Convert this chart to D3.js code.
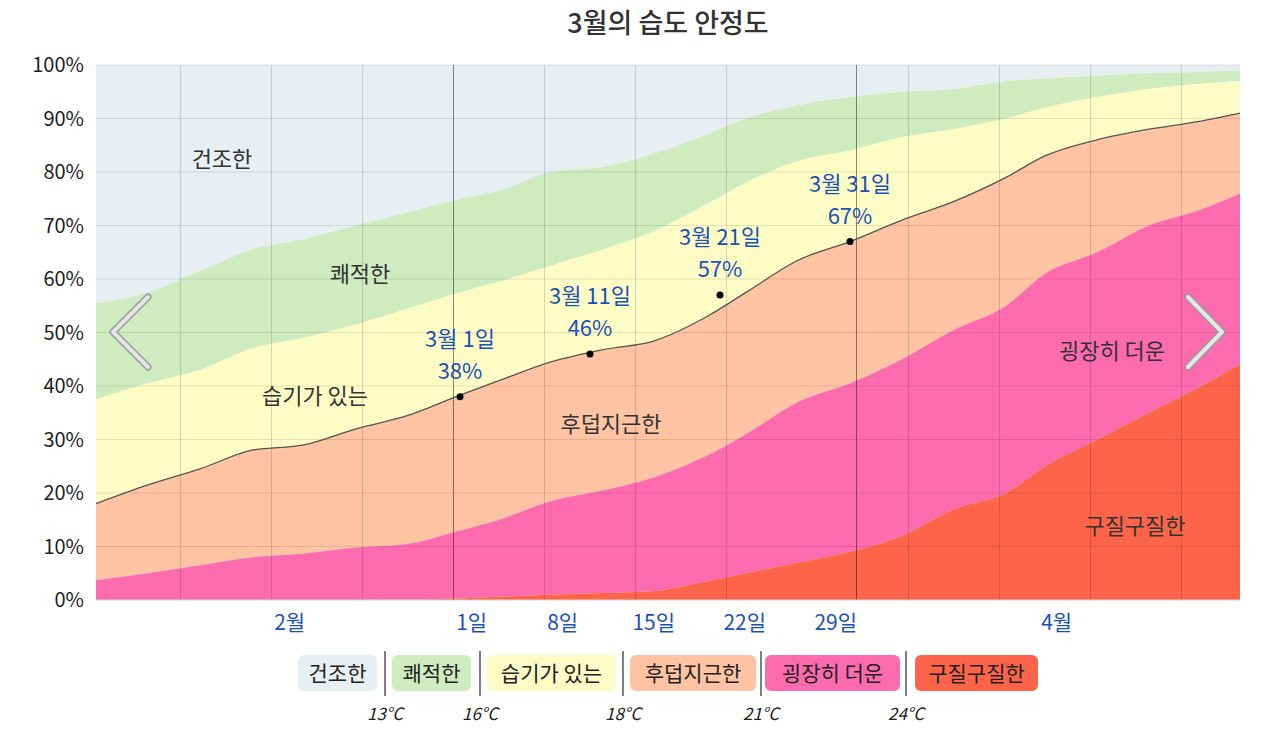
<!DOCTYPE html>
<html><head><meta charset="utf-8">
<script src="https://cdn.jsdelivr.net/npm/d3@7"></script>
<style>body{margin:0;background:#fff;font-family:"Noto Sans CJK KR","Noto Sans",sans-serif}</style>
</head><body><svg id="c" width="1276" height="742"></svg>
<script>
// day offsets from Feb 1 (0 .. 88 = Apr 30)
const days =      [0,   4,   8,   12,  16,  20,  24,  28,  31,  35,  39,  43,  47,  50,  54,  58,  62,  66,  70,  73,  77,  81,  85,  88];
// cumulative upper boundaries (%) of each band, bottom to top
const muggyTop =  [0,   0,   0,   0,   0,   0,   0.1, 0.3, 0.6, 1,   1.3, 1.7, 3.5, 5,   7,   9,   12,  17,  20,  25,  30,  35,  40,  44];
const hotTop =    [3.7, 5,   6.5, 8,   8.7, 9.8, 10.5,13,  15,  18.5,20.5,23,  27,  31,  37,  40.5,45,  50.5,55,  61,  65,  70,  73,  76];
const sultryTop = [18,  21.5,24.5,28,  29,  32,  34.5,38.3,41,  44.5,46.8,48.5,53,  57.5,63.5,67,  71,  74.5,79,  83,  86,  88,  89.5,91];
const humidTop =  [37.5,40.5,43,  47,  49,  51.5,54.5,57.5,59.5,62.5,65.5,69,  74,  78,  82,  84,  86.5,88,  90,  92,  94,  95.5,96.5,97];
const comfyTop =  [55.5,57.5,61.5,65.5,67.5,70,  72.5,75,  76.5,80,  81,  83.5,87,  90,  92.5,94,  95,  95.5,97,  97.5,98,  98.5,98.7,99];
const dryTop =    days.map(() => 100);

const bandNames = ['건조한','쾌적한','습기가 있는','후덥지근한','굉장히 더운','구질구질한'];
const bandColors = ['#e6f0f3','#cfecc0','#fefcc5','#fec3a2','#fd6baf','#fd6449'];
const tempLabels = ['13°C','16°C','18°C','21°C','24°C'];
const yTicks = [0,10,20,30,40,50,60,70,80,90,100];
const dayTicks = [{d:28,t:'1일'},{d:35,t:'8일'},{d:42,t:'15일'},{d:49,t:'22일'},{d:56,t:'29일'}];
const monthTicks = [{d:14,t:'2월'},{d:73,t:'4월'}];
const notes = [{d:28,v:38,t:'3월 1일'},{d:38,v:46,t:'3월 11일'},{d:48,v:57,t:'3월 21일'},{d:58,v:67,t:'3월 31일'}];

const svg = d3.select('#c');
const W = {l:96, r:1240, t:65, b:600};
const x = d3.scaleLinear().domain([0,88]).range([W.l,W.r]);
const y = d3.scaleLinear().domain([0,100]).range([W.b,W.t]);

svg.append('text').attr('x',668).attr('y',33).attr('text-anchor','middle')
  .attr('font-size',27).attr('font-weight',500).attr('fill','#333').text('3월의 습도 안정도');

// bands, drawn from top to bottom
const tops = [dryTop, comfyTop, humidTop, sultryTop, hotTop, muggyTop];
const bottoms = [comfyTop, humidTop, sultryTop, hotTop, muggyTop, days.map(() => 0)];
const area = d3.area().curve(d3.curveMonotoneX).x((d,i) => x(days[i]));
tops.forEach((t,k) => {
  svg.append('path').attr('fill', bandColors[k])
    .attr('d', area.y0((d,i) => y(bottoms[k][i])).y1((d,i) => y(t[i]))(days));
});

// grid
const g = svg.append('g');
g.selectAll('line.h').data(yTicks).join('line')
  .attr('x1',W.l).attr('x2',W.r).attr('y1',d=>y(d)).attr('y2',d=>y(d))
  .attr('stroke','#000').attr('stroke-opacity',0.1);
const weekLines = d3.range(-3,9).map(k => 27.5 + 7*k).filter(d => d>0 && d<88);
g.selectAll('line.v').data(weekLines).join('line')
  .attr('x1',d=>x(d)).attr('x2',d=>x(d)).attr('y1',W.t).attr('y2',W.b)
  .attr('stroke','#000').attr('stroke-opacity',d => (d===27.5||d===55.5) ? 0 : 0.15);
g.selectAll('line.m').data([27.5,58.5]).join('line')
  .attr('x1',d=>x(d)).attr('x2',d=>x(d)).attr('y1',W.t).attr('y2',W.b)
  .attr('stroke','#000').attr('stroke-opacity',0.45);
svg.append('line').attr('x1',W.l).attr('x2',W.r).attr('y1',W.b).attr('y2',W.b).attr('stroke','#ddd');

// boundary line of the sultry band
svg.append('path').attr('fill','none').attr('stroke','#555').attr('stroke-width',1.3)
  .attr('d', d3.line().curve(d3.curveMonotoneX).x((d,i)=>x(days[i])).y((d,i)=>y(sultryTop[i]))(days));

// y labels
svg.selectAll('text.yl').data(yTicks).join('text')
  .attr('x',84).attr('y',d=>y(d)+7).attr('text-anchor','end')
  .attr('font-size',20).attr('fill','#222').text(d=>d+'%');

// x labels
svg.selectAll('text.xl').data(dayTicks.concat(monthTicks)).join('text')
  .attr('x',d=>x(d.d+0.9)).attr('y',630).attr('text-anchor','middle')
  .attr('font-size',21).attr('fill','#1a52b8').text(d=>d.t);

// band labels
const bandLabels = [[222,160],[360,275],[315,397],[611,425],[1112,352],[1135,527]];
bandNames.forEach((n,k) => svg.append('text').attr('x',bandLabels[k][0]).attr('y',bandLabels[k][1]+7)
  .attr('text-anchor','middle').attr('font-size',22).attr('fill','#333').text(n));

// annotations
notes.forEach(n => {
  const cx = x(n.d), cy = y(n.v);
  svg.append('circle').attr('cx',cx).attr('cy',cy).attr('r',3.5).attr('fill','#000');
  const t = svg.append('text').attr('text-anchor','middle').attr('font-size',22).attr('fill','#1a52b8');
  t.append('tspan').attr('x',cx).attr('y',cy-50).text(n.t);
  t.append('tspan').attr('x',cx).attr('y',cy-18).text(n.v+'%');
});

// navigation chevrons
[[148,113],[1188,1222]].forEach(([a,b]) => {
  svg.append('path').attr('d',`M${a},297 L${b},332 L${a},367`).attr('fill','none')
    .attr('stroke','#999').attr('stroke-width',7).attr('stroke-linecap','round').attr('stroke-linejoin','round');
  svg.append('path').attr('d',`M${a},297 L${b},332 L${a},367`).attr('fill','none')
    .attr('stroke','#e6e6e6').attr('stroke-width',4).attr('stroke-linecap','round').attr('stroke-linejoin','round');
});

// legend
const legX = [[298,377],[392,471],[487,616],[630,756],[765,900],[915,1038]];
const sepX = [385,480,623,761,906];
bandNames.forEach((n,k) => {
  svg.append('rect').attr('x',legX[k][0]).attr('y',655).attr('width',legX[k][1]-legX[k][0]).attr('height',36)
    .attr('rx',6).attr('fill',bandColors[k]);
  svg.append('text').attr('x',(legX[k][0]+legX[k][1])/2).attr('y',681).attr('text-anchor','middle')
    .attr('font-size',21).attr('fill','#222').text(n);
});
sepX.forEach((s,k) => {
  svg.append('line').attr('x1',s).attr('x2',s).attr('y1',651).attr('y2',696).attr('stroke','#555').attr('stroke-width',1.5);
  svg.append('text').attr('x',s).attr('y',720).attr('text-anchor','middle').attr('font-size',17)
    .attr('font-style','italic').attr('fill','#222').text(tempLabels[k]);
});
</script></body></html>
